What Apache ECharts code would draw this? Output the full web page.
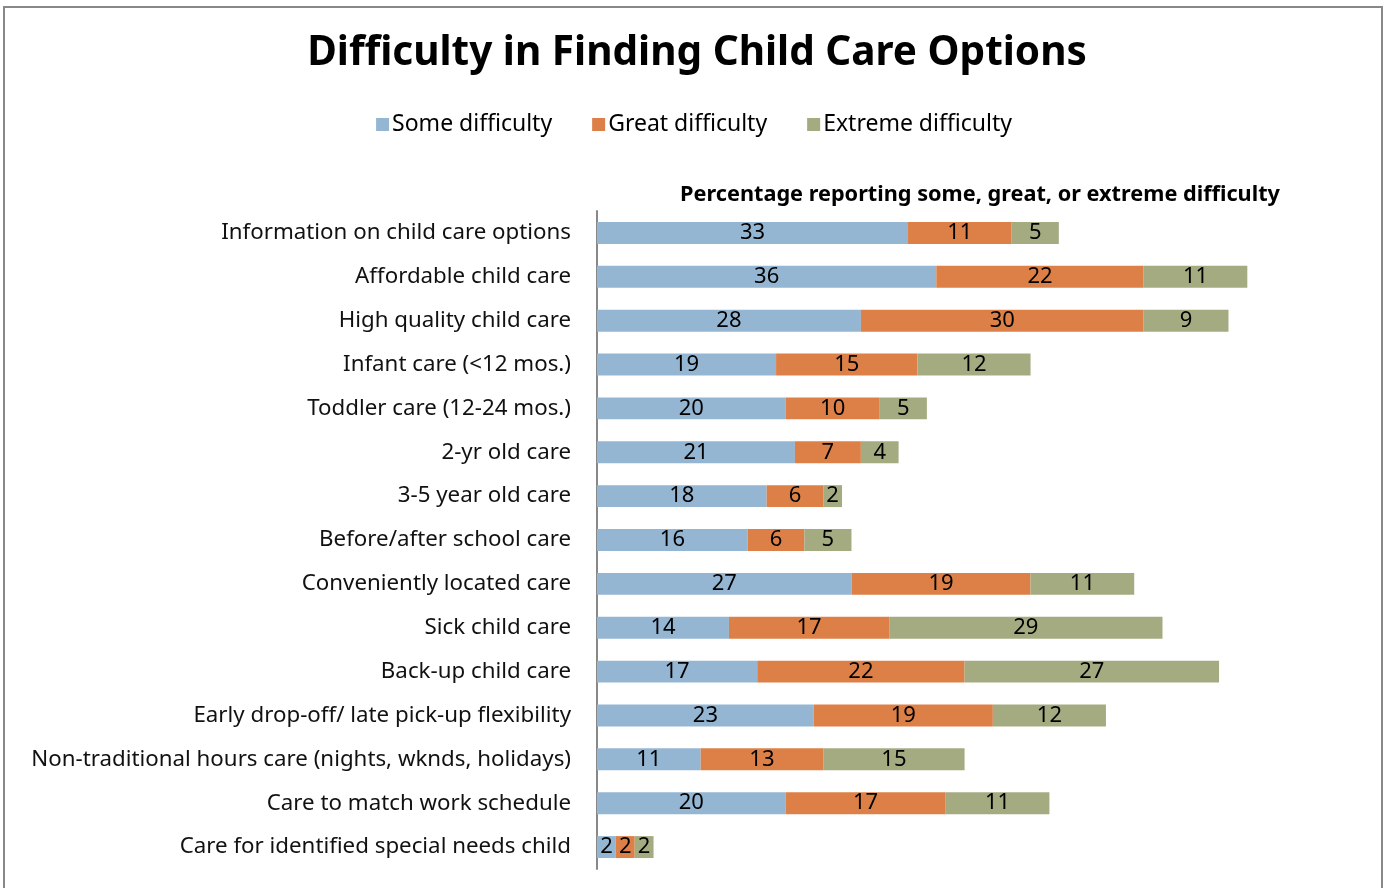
<!DOCTYPE html>
<html>
<head>
<meta charset="utf-8">
<script src="https://cdn.jsdelivr.net/npm/echarts@6/dist/echarts.min.js"></script>
<style>
html, body { margin: 0; padding: 0; background: #fff; }
#chart1 { width: 1388px; height: 888px; }
</style>
</head>
<body>
<div id="chart1"></div>
<script>
// categories, top to bottom as in the picture
var categories = [
    'Information on child care options',
    'Affordable child care',
    'High quality child care',
    'Infant care (<12 mos.)',
    'Toddler care (12-24 mos.)',
    '2-yr old care',
    '3-5 year old care',
    'Before/after school care',
    'Conveniently located care',
    'Sick child care',
    'Back-up child care',
    'Early drop-off/ late pick-up flexibility',
    'Non-traditional hours care (nights, wknds, holidays)',
    'Care to match work schedule',
    'Care for identified special needs child'
];
var someDifficulty    = [33, 36, 28, 19, 20, 21, 18, 16, 27, 14, 17, 23, 11, 20, 2];
var greatDifficulty   = [11, 22, 30, 15, 10, 7, 6, 6, 19, 17, 22, 19, 13, 17, 2];
var extremeDifficulty = [5, 11, 9, 12, 5, 4, 2, 5, 11, 29, 27, 12, 15, 11, 2];

var fontName = '"Noto Sans", "DejaVu Sans", sans-serif';

function mkSeries(name, data, color) {
    return {
        name: name,
        type: 'bar',
        stack: 'total',
        barWidth: '50%',
        itemStyle: { color: color },
        label: {
            show: true,
            position: 'inside',
            color: '#000',
            fontSize: 22,
            fontFamily: fontName
        },
        data: data
    };
}

var chart = echarts.init(document.getElementById('chart1'));
chart.setOption({
    animation: false,
    textStyle: { fontFamily: fontName },
    title: [
        {
            text: 'Difficulty in Finding Child Care Options',
            left: 692,
            textAlign: 'center',
            top: 28,
            textStyle: { fontSize: 40.5, fontWeight: 'bold', color: '#000', fontFamily: fontName }
        },
        {
            text: 'Percentage reporting some, great, or extreme difficulty',
            left: 975,
            textAlign: 'center',
            top: 179,
            textStyle: { fontSize: 21.7, fontWeight: 'bold', color: '#000', fontFamily: fontName }
        }
    ],
    legend: {
        top: 108,
        left: 'center',
        itemWidth: 13,
        itemHeight: 13,
        itemGap: 40,
        icon: 'rect',
        textStyle: { fontSize: 23, color: '#000', fontFamily: fontName, padding: [0, 0, 0, -2] },
        data: ['Some difficulty', 'Great difficulty', 'Extreme difficulty']
    },
    grid: { left: 597, right: 37, top: 211, bottom: 19, containLabel: false },
    xAxis: {
        type: 'value',
        min: 0,
        max: 80,
        show: false
    },
    yAxis: {
        type: 'category',
        inverse: true,
        data: categories,
        axisLine: { show: true, lineStyle: { color: '#888', width: 2 } },
        axisTick: { show: false },
        axisLabel: { fontSize: 22.3, color: '#111', margin: 26, fontFamily: fontName }
    },
    series: [
        mkSeries('Some difficulty', someDifficulty, '#94B6D2'),
        mkSeries('Great difficulty', greatDifficulty, '#DD8047'),
        mkSeries('Extreme difficulty', extremeDifficulty, '#A5AB81')
    ],
    graphic: [
        {
            type: 'rect',
            shape: { x: 4, y: 7, width: 1378, height: 900 },
            style: { fill: null, stroke: '#888', lineWidth: 2 },
            silent: true
        }
    ]
});
</script>
</body>
</html>
